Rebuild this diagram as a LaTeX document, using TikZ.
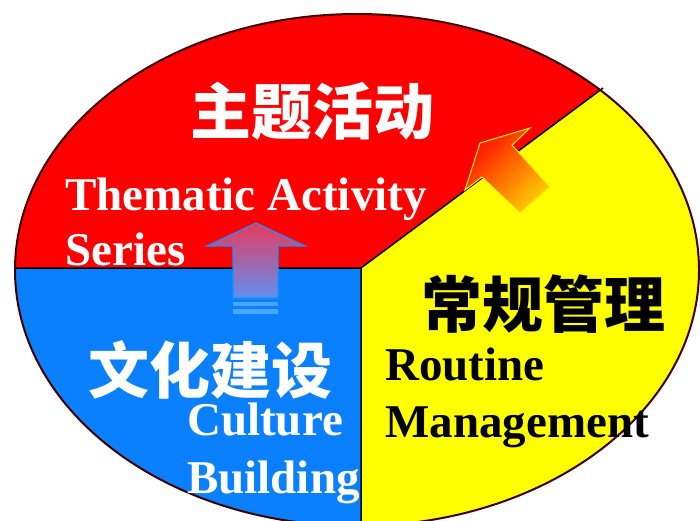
\documentclass[tikz,border=0pt]{standalone}
\usepackage{fontspec}
\setmainfont{Liberation Serif}
\newfontfamily\cjk{Noto Sans CJK SC}
\definecolor{sred}{HTML}{FF0000}
\definecolor{sblue}{HTML}{0A80FF}
\definecolor{syellow}{HTML}{FFFF00}
\definecolor{aline}{HTML}{1A90FF}
\definecolor{atop}{HTML}{E83A5E}
\definecolor{abot}{HTML}{6090F0}
\begin{document}
\begin{tikzpicture}[x=1pt,y=-1pt,
  lab/.style={font=\fontsize{47}{50}\selectfont\bfseries,anchor=base west,inner sep=0pt},
  zh/.style={font=\fontsize{61}{64}\selectfont\cjk\bfseries,inner sep=0pt}]
\useasboundingbox (0,0) rectangle (700,520);
\clip (0,0) rectangle (700,520);
\coordinate (O) at (361,268);
\coordinate (L) at (15,268);
\coordinate (R) at (603,88);
\coordinate (D) at (361,530);
\begin{scope}
  \clip (357,270) ellipse [x radius=342,y radius=256];
  \fill[syellow] (357,270) ellipse [x radius=342,y radius=256];
  \fill[sred] (O) -- (-10,268) -- (-10,-10) -- (734,-10) -- cycle;
  \fill[sblue] (O) -- (-10,268) -- (-10,540) -- (361,540) -- cycle;
\end{scope}
\draw[line width=1.5pt] (L) -- (O) -- (R) (O) -- (D);
\draw[line width=2pt,black!75!red] (357,270) ellipse [x radius=342,y radius=256];
\shade[top color=atop,bottom color=abot,draw=aline,line width=1.2pt]
  (256,223) -- (305,246) -- (278,246) -- (278,298) -- (233,298) -- (233,246) -- (207,246) -- cycle;
\fill[aline!80!white] (233,302) rectangle (278,306);
\fill[aline!80!white] (233,309) rectangle (278,314);
\shade[top color=red!90!orange,bottom color=orange!40!yellow,shading angle=45,draw=yellow,line width=1pt]
  (480,143) -- (530,128) -- (512,145) -- (550,187) -- (520,213) -- (482,177) -- (465,190) -- cycle;
\node[zh,white] (zhuti) at (312,111) {主题活动};
\node[lab,white] (thematic) at (65,210) {Thematic Activity};
\node[lab,white] (series) at (65,265) {Series};
\node[zh,black] (changgui) at (543,304) {常规管理};
\node[lab,black] (routine) at (385,380) {Routine};
\node[lab,black] (mgmt) at (385,437) {Management};
\node[zh,white] (wenhua) at (210,370) {文化建设};
\node[lab,white] (culture) at (187,435) {Culture};
\node[lab,white] (building) at (187,493) {Building};
\end{tikzpicture}
\end{document}
